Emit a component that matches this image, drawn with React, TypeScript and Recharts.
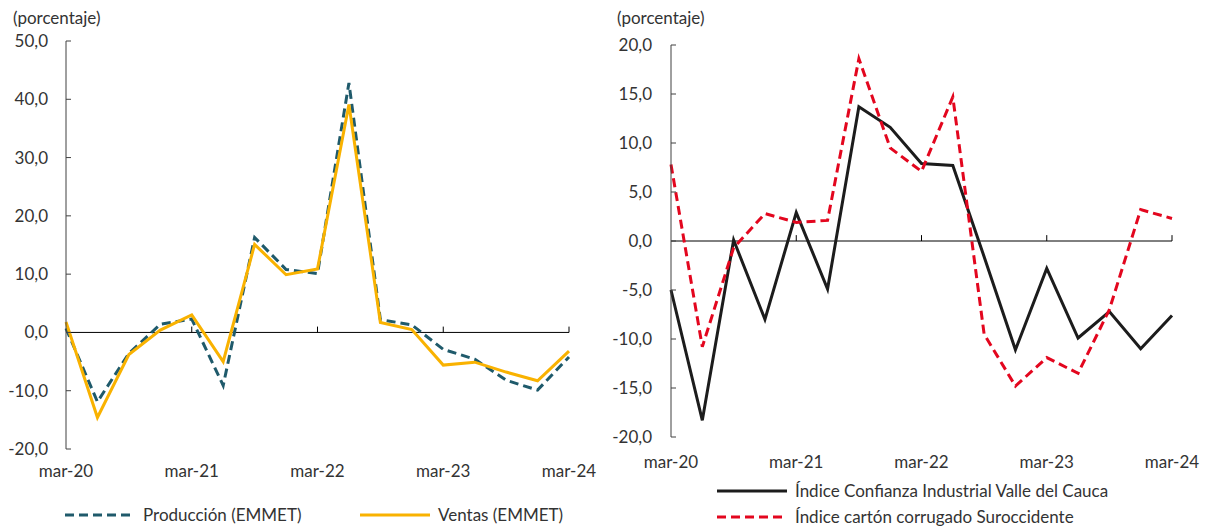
import { LineChart, Line, XAxis, YAxis, ReferenceLine } from "recharts";

// trimestres mar-20 .. mar-24
const quarters = [
  "mar-20", "jun-20", "sep-20", "dic-20",
  "mar-21", "jun-21", "sep-21", "dic-21",
  "mar-22", "jun-22", "sep-22", "dic-22",
  "mar-23", "jun-23", "sep-23", "dic-23",
  "mar-24",
];
const yearMarks = ["mar-21", "mar-22", "mar-23", "mar-24"];

const produccion = [0.7, -11.9, -3.6, 1.4, 2.3, -9.1, 16.3, 10.8, 10.1, 42.8, 2.2, 1.3, -2.9, -4.6, -8.2, -9.9, -4.2];
const ventas = [1.8, -14.6, -3.8, 0.4, 3.0, -5.0, 15.1, 9.9, 10.9, 39.1, 1.7, 0.5, -5.6, -5.1, -6.8, -8.3, -3.2];

const confianza = [-5.0, -18.3, 0.1, -8.0, 2.9, -4.9, 13.7, 11.6, 7.9, 7.7, -1.6, -11.1, -2.8, -9.9, -7.2, -11.0, -7.6];
const carton = [7.8, -10.8, -0.7, 2.8, 1.9, 2.1, 18.6, 9.5, 7.1, 14.7, -9.5, -14.8, -11.9, -13.5, -7.0, 3.2, 2.3];

const leftTicks = [-20, -10, 0, 10, 20, 30, 40, 50];
const rightTicks = [-20, -15, -10, -5, 0, 5, 10, 15, 20];

const leftData = quarters.map((q, i) => ({ q, produccion: produccion[i], ventas: ventas[i] }));
const rightData = quarters.map((q, i) => ({ q, confianza: confianza[i], carton: carton[i] }));

const FONT = "Lato, 'Noto Sans', sans-serif";
const TXT = "#333333";
const TEAL = "#1f5a6b";
const ORANGE = "#f9b200";
const BLACK = "#1c1c1c";
const RED = "#e3061e";

const fmt = (v: number) => v.toFixed(1).replace(".", ",");

const LegendItem = ({ color, dash, label, style }: any) => (
  <div style={{ position: "absolute", display: "flex", alignItems: "center", ...style }}>
    <svg width={70} height={10} style={{ marginRight: 8 }}>
      <line x1={0} y1={5} x2={70} y2={5} stroke={color} strokeWidth={3} strokeDasharray={dash} />
    </svg>
    <span style={{ whiteSpace: "nowrap" }}>{label}</span>
  </div>
);

export default function App() {
  const tickStyle = { fill: TXT, fontSize: 17, fontFamily: FONT };
  return (
    <div style={{ position: "relative", width: 1208, height: 527, background: "#fff", fontFamily: FONT, fontSize: 17, color: TXT }}>
      <style>{`body{margin:0}`}</style>

      <div style={{ position: "absolute", left: 13, top: 7 }}>(porcentaje)</div>
      <div style={{ position: "absolute", left: 0, top: 0 }}>
        <LineChart width={600} height={527} data={leftData} margin={{ top: 41, right: 31, left: 0, bottom: 48 }}>
          <XAxis
            dataKey="q"
            interval={3}
            axisLine={false}
            tickLine={false}
            tickSize={0}
            tickMargin={16}
            height={30}
            tick={tickStyle}
          />
          <YAxis
            width={66}
            domain={[-20, 50]}
            ticks={leftTicks}
            tickFormatter={fmt}
            tickSize={-5}
            tickMargin={23}
            axisLine={{ stroke: "#404040" }}
            tickLine={{ stroke: "#404040" }}
            tick={tickStyle}
          />
          <ReferenceLine y={0} stroke="#000" strokeWidth={1} />
          {yearMarks.map((m) => (
            <ReferenceLine key={m} segment={[{ x: m, y: 0 }, { x: m, y: 1 }]} stroke="#000" strokeWidth={1} />
          ))}
          <Line
            dataKey="produccion"
            stroke={TEAL}
            strokeWidth={3}
            strokeDasharray="9 5"
            dot={false}
            isAnimationActive={false}
          />
          <Line dataKey="ventas" stroke={ORANGE} strokeWidth={3} dot={false} isAnimationActive={false} />
        </LineChart>
      </div>
      <LegendItem color={TEAL} dash="9 5" label="Producción (EMMET)" style={{ left: 65, top: 504 }} />
      <LegendItem color={ORANGE} label="Ventas (EMMET)" style={{ left: 360, top: 504 }} />

      <div style={{ position: "absolute", left: 617, top: 7 }}>(porcentaje)</div>
      <div style={{ position: "absolute", left: 604, top: 0 }}>
        <LineChart width={604} height={527} data={rightData} margin={{ top: 45, right: 36, left: 0, bottom: 60 }}>
          <XAxis
            dataKey="q"
            interval={3}
            axisLine={false}
            tickLine={false}
            tickSize={0}
            tickMargin={19}
            height={30}
            tick={tickStyle}
          />
          <YAxis
            width={67}
            domain={[-20, 20]}
            ticks={rightTicks}
            tickFormatter={fmt}
            tickSize={-5}
            tickMargin={24}
            axisLine={{ stroke: "#404040" }}
            tickLine={{ stroke: "#404040" }}
            tick={tickStyle}
          />
          <ReferenceLine y={0} stroke="#000" strokeWidth={1} />
          {yearMarks.map((m) => (
            <ReferenceLine key={m} segment={[{ x: m, y: 0 }, { x: m, y: 0.6 }]} stroke="#000" strokeWidth={1} />
          ))}
          <Line dataKey="confianza" stroke={BLACK} strokeWidth={3} dot={false} isAnimationActive={false} />
          <Line
            dataKey="carton"
            stroke={RED}
            strokeWidth={3}
            strokeDasharray="9 5"
            dot={false}
            isAnimationActive={false}
          />
        </LineChart>
      </div>
      <LegendItem color={BLACK} label="Índice Confianza Industrial Valle del Cauca" style={{ left: 717, top: 480 }} />
      <LegendItem color={RED} dash="9 5" label="Índice cartón corrugado Suroccidente" style={{ left: 717, top: 506 }} />
    </div>
  );
}
